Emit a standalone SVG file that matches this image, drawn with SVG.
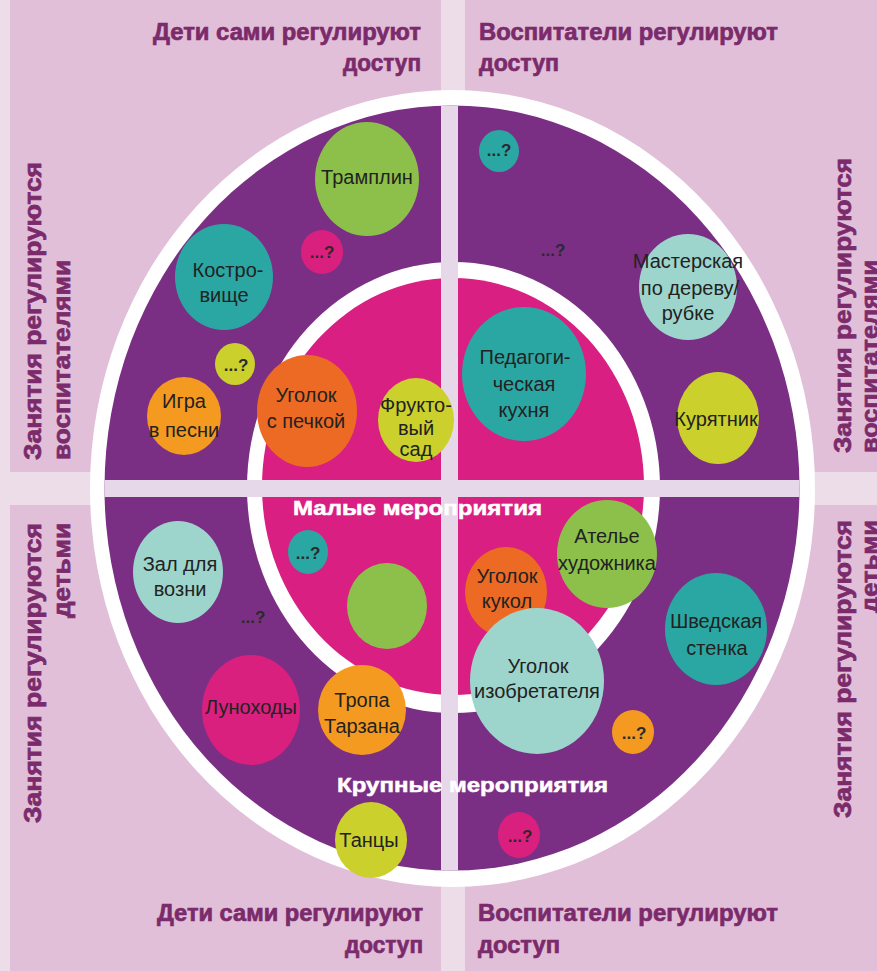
<svg xmlns="http://www.w3.org/2000/svg" width="877" height="971" viewBox="0 0 877 971">
<style>
.q{fill:#e1bfd8}
.st{fill:#e6d8e8}
.h{font-family:"Liberation Sans",Arial,sans-serif;font-weight:bold;font-size:24px;fill:#7b2a6b;stroke:#7b2a6b;stroke-width:0.7px}
.sd{font-family:"Liberation Sans",Arial,sans-serif;font-weight:bold;font-size:23px;fill:#7b2a6b;stroke:#7b2a6b;stroke-width:0.7px}
.b{font-family:"Liberation Sans",Arial,sans-serif;font-size:20px;fill:#222;text-anchor:middle}
.qm{font-family:"Liberation Sans",Arial,sans-serif;font-weight:bold;font-size:17px;fill:#2a2a2a;text-anchor:middle}
.w{font-family:"Liberation Sans",Arial,sans-serif;font-weight:bold;font-size:20px;fill:#ffffff;stroke:#ffffff;stroke-width:0.5px}
.green{fill:#8cc04a}.teal{fill:#2aa7a2}.lteal{fill:#9dd5cd}.yel{fill:#cbd02c}.org{fill:#f59a20}.red{fill:#ec6a24}.mag{fill:#d9207f}
</style>
<defs>
<clipPath id="outerClip"><ellipse cx="452" cy="488" rx="347.5" ry="382.5"/></clipPath>
</defs>
<g id="background">
<rect x="0" y="0" width="877" height="971" fill="#ecdde9"/>
<rect class="q" x="10" y="0" width="431" height="472"/>
<rect class="q" x="465" y="0" width="412" height="472"/>
<rect class="q" x="10" y="505" width="431" height="466"/>
<rect class="q" x="465" y="505" width="412" height="466"/>
</g>
<g id="rings">
<ellipse cx="452.5" cy="488.5" rx="362.5" ry="398.5" fill="#ffffff"/>
<ellipse cx="452" cy="488" rx="347.5" ry="382.5" fill="#7b2f84"/>
<ellipse cx="453.5" cy="487.5" rx="206.5" ry="225.5" fill="#ffffff"/>
<ellipse cx="453" cy="486.5" rx="191" ry="208.5" fill="#d91f82"/>
<g clip-path="url(#outerClip)">
<rect class="st" x="441" y="90" width="17" height="800"/>
<rect class="st" x="90" y="480" width="730" height="17"/>
</g>
</g>
<g id="side-labels">
<text class="h" x="421" y="40" text-anchor="end" textLength="268" lengthAdjust="spacingAndGlyphs">Дети сами регулируют</text>
<text class="h" x="421" y="71" text-anchor="end" textLength="78" lengthAdjust="spacingAndGlyphs">доступ</text>
<text class="h" x="479" y="40" textLength="299" lengthAdjust="spacingAndGlyphs">Воспитатели регулируют</text>
<text class="h" x="479" y="71" textLength="80" lengthAdjust="spacingAndGlyphs">доступ</text>
<text class="h" x="423" y="921" text-anchor="end" textLength="266" lengthAdjust="spacingAndGlyphs">Дети сами регулируют</text>
<text class="h" x="423" y="953" text-anchor="end" textLength="78" lengthAdjust="spacingAndGlyphs">доступ</text>
<text class="h" x="478" y="921" textLength="300" lengthAdjust="spacingAndGlyphs">Воспитатели регулируют</text>
<text class="h" x="478" y="953" textLength="82" lengthAdjust="spacingAndGlyphs">доступ</text>
<text class="sd" transform="translate(41,460) rotate(-90)" textLength="298" lengthAdjust="spacingAndGlyphs">Занятия регулируются</text>
<text class="sd" transform="translate(70,460) rotate(-90)" textLength="200" lengthAdjust="spacingAndGlyphs">воспитателями</text>
<text class="sd" transform="translate(41,823) rotate(-90)" textLength="300" lengthAdjust="spacingAndGlyphs">Занятия регулируются</text>
<text class="sd" transform="translate(70,618) rotate(-90)" textLength="95" lengthAdjust="spacingAndGlyphs">детьми</text>
<text class="sd" transform="translate(851,453) rotate(-90)" textLength="295" lengthAdjust="spacingAndGlyphs">Занятия регулируются</text>
<text class="sd" transform="translate(878,453) rotate(-90)" textLength="193" lengthAdjust="spacingAndGlyphs">воспитателями</text>
<text class="sd" transform="translate(851,818) rotate(-90)" textLength="298" lengthAdjust="spacingAndGlyphs">Занятия регулируются</text>
<text class="sd" transform="translate(878,613) rotate(-90)" textLength="93" lengthAdjust="spacingAndGlyphs">детьми</text>
</g>
<g id="node-tramplin"><ellipse class="green" cx="367" cy="179" rx="52" ry="57"/><text class="b" x="367" y="184">Трамплин</text></g>
<g id="node-q1"><ellipse class="mag" cx="322" cy="252" rx="21" ry="22"/><text class="qm" x="322" y="258">...?</text></g>
<g id="node-kostrovische"><ellipse class="teal" cx="224" cy="277" rx="49" ry="53"/><text class="b" x="228" y="277">Костро-</text><text class="b" x="224" y="302">вище</text></g>
<g id="node-q2"><ellipse class="yel" cx="235" cy="364" rx="20" ry="21"/><text class="qm" x="236" y="371">...?</text></g>
<g id="node-igra"><ellipse class="org" cx="184" cy="416" rx="37" ry="39"/><text class="b" x="184" y="408">Игра</text><text class="b" x="184" y="437">в песни</text></g>
<g id="node-pechka"><ellipse class="red" cx="307" cy="411" rx="50" ry="56"/><text class="b" x="306" y="402">Уголок</text><text class="b" x="306" y="428">с печкой</text></g>
<g id="node-sad"><ellipse class="yel" cx="416" cy="420" rx="38" ry="42"/><text class="b" x="416" y="412">Фрукто-</text><text class="b" x="416" y="435">вый</text><text class="b" x="416" y="456">сад</text></g>
<g id="node-kuhnya"><ellipse class="teal" cx="524" cy="374" rx="62" ry="67"/><text class="b" x="525" y="364">Педагоги-</text><text class="b" x="524" y="391">ческая</text><text class="b" x="524" y="417">кухня</text></g>
<g id="node-q3"><ellipse class="teal" cx="499" cy="151" rx="20" ry="21"/><text class="qm" x="499" y="156">...?</text></g>
<g id="node-q4"><text class="qm" x="553" y="256">...?</text></g>
<g id="node-masterskaya"><ellipse class="lteal" cx="688" cy="287" rx="49" ry="53"/><text class="b" x="688" y="268">Мастерская</text><text class="b" x="690" y="295">по дереву/</text><text class="b" x="688" y="320">рубке</text></g>
<g id="node-kuryatnik"><ellipse class="yel" cx="718" cy="418" rx="41" ry="46"/><text class="b" x="716" y="426">Курятник</text></g>
<g id="node-zal"><ellipse class="lteal" cx="178" cy="572" rx="45" ry="51"/><text class="b" x="180" y="571">Зал для</text><text class="b" x="180" y="596">возни</text></g>
<g id="node-q5"><text class="qm" x="253" y="623">...?</text></g>
<g id="node-lunohody"><ellipse class="mag" cx="251" cy="710" rx="49" ry="55"/><text class="b" x="251" y="714">Луноходы</text></g>
<g id="node-q6"><ellipse class="teal" cx="308" cy="552" rx="20" ry="22"/><text class="qm" x="308" y="559">...?</text></g>
<g id="node-green"><ellipse class="green" cx="387" cy="606" rx="40" ry="43"/></g>
<g id="node-tropa"><ellipse class="org" cx="362" cy="710" rx="44" ry="45"/><text class="b" x="362" y="707">Тропа</text><text class="b" x="362" y="733">Тарзана</text></g>
<g id="node-tancy"><ellipse class="yel" cx="371" cy="840" rx="36" ry="38"/><text class="b" x="369" y="847">Танцы</text></g>
<g id="node-kukly"><ellipse class="red" cx="506" cy="592" rx="41" ry="45"/><text class="b" x="507" y="583">Уголок</text><text class="b" x="507" y="608">кукол</text></g>
<g id="node-atelie"><ellipse class="green" cx="607" cy="554" rx="50" ry="54"/><text class="b" x="607" y="543">Ателье</text><text class="b" x="607" y="570">художника</text></g>
<g id="node-izobretatel"><ellipse class="lteal" cx="537" cy="681" rx="67" ry="73"/><text class="b" x="538" y="673">Уголок</text><text class="b" x="537" y="698">изобретателя</text></g>
<g id="node-shvedskaya"><ellipse class="teal" cx="716" cy="629" rx="51" ry="56"/><text class="b" x="716" y="628">Шведская</text><text class="b" x="717" y="655">стенка</text></g>
<g id="node-q7"><ellipse class="org" cx="633" cy="732" rx="21" ry="22"/><text class="qm" x="634" y="739">...?</text></g>
<g id="node-q8"><ellipse class="mag" cx="519" cy="835" rx="21" ry="23"/><text class="qm" x="520" y="842">...?</text></g>
<g id="ring-labels">
<text class="w" x="293" y="515" textLength="249" lengthAdjust="spacingAndGlyphs">Малые мероприятия</text>
<text class="w" x="337" y="792" textLength="271" lengthAdjust="spacingAndGlyphs">Крупные мероприятия</text>
</g>
<g id="connectors"/>
</svg>
